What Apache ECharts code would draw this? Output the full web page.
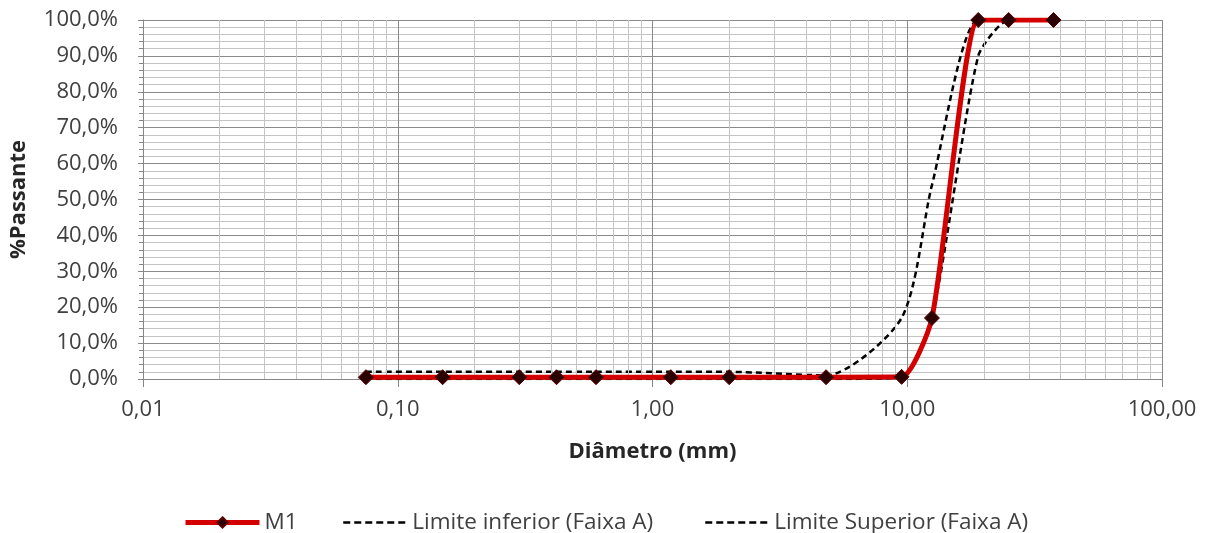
<!DOCTYPE html>
<html>
<head>
<meta charset="utf-8">
<script src="https://cdn.jsdelivr.net/npm/echarts@6/dist/echarts.min.js"></script>
<style>
html,body{margin:0;padding:0;background:#fff;}
#chart{width:1210px;height:533px;}
</style>
</head>
<body>
<div id="chart"></div>
<script>
// Sieve openings (mm)
const diameters = [0.075, 0.15, 0.3, 0.42, 0.6, 1.18, 2.0, 4.8, 9.5, 12.5, 19, 25, 37.5];
// % passing
const m1 = [0.5, 0.5, 0.5, 0.5, 0.5, 0.5, 0.5, 0.5, 0.6, 17, 100, 100, 100];
const limiteInferior = [0, 0, 0, 0, 0, 0, 0, 0, 0.5, 17, 90, 100, 100];
const limiteSuperior = [2, 2, 2, 2, 2, 2, 2, 1, 17, 54, 100, 100, 100];
// axis ticks
const xDecades = [0.01, 0.1, 1, 10, 100];
const minorMultipliers = [2, 3, 4, 5, 6, 7, 8, 9];

const FONT = '"Open Sans", "DejaVu Sans", sans-serif';
const pairs = ys => diameters.map((d, i) => [d, ys[i]]);

const minorX = [];
xDecades.slice(0, -1).forEach(d => minorMultipliers.forEach(m => minorX.push(+(d * m).toPrecision(3))));

const legendText = {fontFamily: FONT, fontSize: 22.5, color: '#404040'};
const chart = echarts.init(document.getElementById('chart'), null, {renderer: 'canvas'});
chart.setOption({
  backgroundColor: '#ffffff',
  animation: false,
  grid: {left: 143, right: 48, top: 20, bottom: 154},
  legend: [
    {data: ['M1'], left: 178, top: 506, itemWidth: 74, itemHeight: 13, textStyle: legendText,
     lineStyle: {width: 5, color: '#d40000'}},
    {data: ['Limite inferior (Faixa A)'], left: 337, top: 506, itemWidth: 64, itemHeight: 13,
     textStyle: legendText, itemStyle: {opacity: 0}, lineStyle: {width: 2.5, color: '#000', type: [7, 4]}},
    {data: ['Limite Superior (Faixa A)'], left: 699, top: 506, itemWidth: 64, itemHeight: 13,
     textStyle: legendText, itemStyle: {opacity: 0}, lineStyle: {width: 2.5, color: '#000', type: [7, 4]}}
  ],
  xAxis: {
    type: 'log', logBase: 10, min: 0.01, max: 100,
    name: 'Diâmetro (mm)', nameLocation: 'middle', nameGap: 62,
    nameTextStyle: {fontFamily: FONT, fontSize: 22, fontWeight: 'bold', color: '#262626'},
    axisLine: {show: true, lineStyle: {color: '#868686', width: 1}},
    axisTick: {show: true, inside: false, length: 8, lineStyle: {color: '#868686'}},
    axisLabel: {fontFamily: FONT, fontSize: 22, color: '#404040', margin: 20,
      formatter: v => Number(v).toFixed(2).replace('.', ',')},
    splitLine: {show: true, lineStyle: {color: '#8a8a8a', width: 1}}
  },
  yAxis: {
    type: 'value', min: 0, max: 100, interval: 10,
    name: '%Passante', nameLocation: 'middle', nameGap: 113, nameRotate: 90,
    nameTextStyle: {fontFamily: FONT, fontSize: 22, fontWeight: 'bold', color: '#262626'},
    axisLine: {show: true, lineStyle: {color: '#868686', width: 1}},
    axisTick: {show: true, length: 5, lineStyle: {color: '#868686'}},
    minorTick: {show: true, splitNumber: 5, length: 4, lineStyle: {color: '#868686'}},
    axisLabel: {fontFamily: FONT, fontSize: 22, color: '#404040', margin: 25,
      formatter: v => v.toFixed(1).replace('.', ',') + '%'},
    splitLine: {show: true, lineStyle: {color: '#8a8a8a', width: 1}},
    minorSplitLine: {show: true, lineStyle: {color: '#c4c4c4', width: 1}}
  },
  series: [
    {
      name: 'minor-grid', type: 'line', data: [], silent: true, z: 1,
      markLine: {
        silent: true, symbol: ['none', 'none'], label: {show: false},
        lineStyle: {color: '#c4c4c4', width: 1, type: 'solid'},
        data: minorX.map(v => ({xAxis: v}))
      }
    },
    {
      name: 'Limite inferior (Faixa A)', type: 'line', data: pairs(limiteInferior),
      smooth: 0.2, showSymbol: false, symbol: 'none', z: 3,
      lineStyle: {color: '#000000', width: 2.5, type: [6, 4]},
      itemStyle: {color: '#000000'}
    },
    {
      name: 'Limite Superior (Faixa A)', type: 'line', data: pairs(limiteSuperior),
      smooth: 0.25, showSymbol: false, symbol: 'none', z: 3,
      lineStyle: {color: '#000000', width: 2.5, type: [6, 4]},
      itemStyle: {color: '#000000'}
    },
    {
      name: 'M1', type: 'line', data: pairs(m1), smooth: 0.2, z: 5,
      symbol: 'diamond', symbolSize: 15,
      lineStyle: {color: '#d40000', width: 5},
      itemStyle: {color: '#2a0000', borderColor: '#5a0000', borderWidth: 1}
    }
  ]
});
</script>
</body>
</html>
